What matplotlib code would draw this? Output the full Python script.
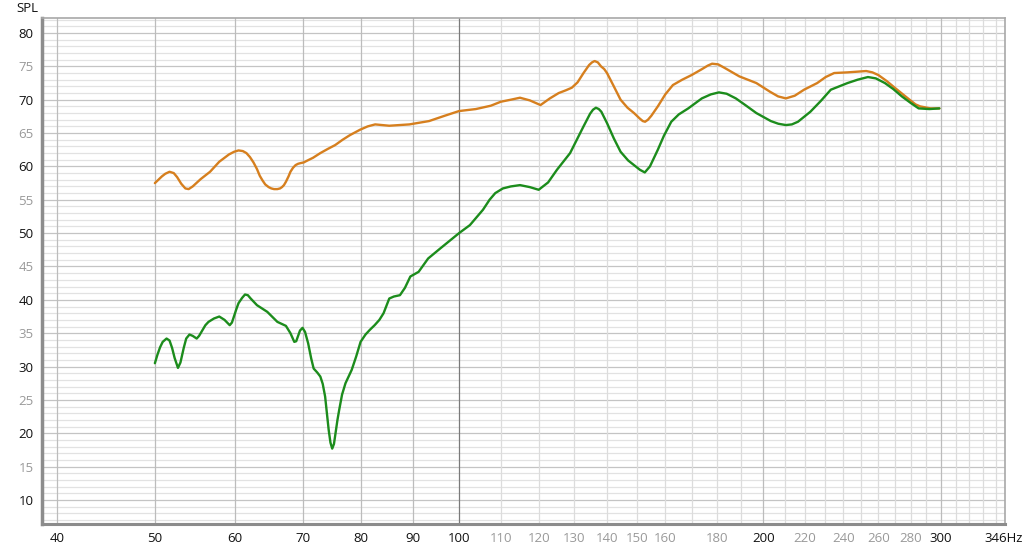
import numpy as np
import matplotlib
matplotlib.use("Agg")
import matplotlib.pyplot as plt

plt.rcParams['font.family'] = ['Open Sans', 'DejaVu Sans']

# frequency response readings (Hz, dB SPL)
orange_freq = [50.0, 50.4, 50.8, 51.2, 51.7, 52.2, 52.6, 53.1, 53.6, 54.0, 54.5, 55.5,
               56.7, 57.9, 59.2, 59.9, 60.5, 61.1, 61.6, 62.1, 62.6, 63.1, 63.5, 63.9,
               64.3, 64.8, 65.2, 65.6, 66.1, 66.5, 66.8, 67.1, 67.4, 67.8, 68.1, 68.5,
               68.9, 69.3, 69.7, 70.2, 70.6, 71.7, 72.9, 74.1, 75.4, 76.7, 78.0, 79.8,
               81.2, 82.6, 85.3, 89.3, 93.4, 96.8, 100.0, 103.9, 107.5, 110.0, 112.5,
               114.9, 117.5, 120.4, 123.0, 125.5, 127.5, 129.3, 131.0, 132.8, 134.5,
               135.4, 136.2, 137.2, 138.2, 139.2, 140.1, 142.3, 144.5, 146.8, 149.0,
               150.9, 152.0, 152.8, 153.8, 155.0, 157.3, 160.0, 162.8, 166.3, 169.9,
               174.0, 176.2, 178.0, 180.5, 183.5, 189.4, 196.9, 203.1, 206.9, 210.6,
               214.9, 219.5, 226.2, 230.6, 235.1, 242.4, 247.6, 252.9, 256.5, 260.0,
               265.0, 270.4, 275.0, 279.2, 283.0, 286.0, 292.9, 298.8]
orange_spl = [57.5, 58.0, 58.5, 58.9, 59.2, 59.0, 58.4, 57.4, 56.7, 56.6, 57.0, 58.1,
              59.2, 60.7, 61.8, 62.2, 62.4, 62.3, 62.0, 61.4, 60.6, 59.6, 58.6, 57.9,
              57.3, 56.9, 56.7, 56.6, 56.6, 56.7, 56.9, 57.2, 57.7, 58.5, 59.2, 59.8,
              60.2, 60.4, 60.5, 60.6, 60.8, 61.3, 62.0, 62.6, 63.2, 64.0, 64.7, 65.5,
              66.0, 66.3, 66.1, 66.3, 66.8, 67.6, 68.3, 68.6, 69.1, 69.7, 70.0, 70.3,
              69.9, 69.2, 70.2, 71.0, 71.4, 71.8, 72.6, 74.0, 75.2, 75.6, 75.8, 75.6,
              75.0, 74.6, 74.0, 72.0, 70.0, 68.8, 68.0, 67.2, 66.8, 66.7, 67.0, 67.6,
              69.0, 70.8, 72.2, 73.0, 73.7, 74.6, 75.1, 75.4, 75.3, 74.7, 73.5, 72.5,
              71.2, 70.5, 70.2, 70.6, 71.5, 72.5, 73.4, 74.0, 74.1, 74.2, 74.3, 74.1,
              73.7, 72.8, 71.7, 70.8, 70.0, 69.3, 69.0, 68.7, 68.7]

green_freq = [50.0, 50.3, 50.6, 50.9, 51.35, 51.7, 52.0, 52.3, 52.7, 53.0, 53.4, 53.7,
              54.1, 54.5, 55.0, 55.3, 55.7, 56.1, 56.5, 57.2, 57.9, 58.6, 59.3, 59.6,
              59.9, 60.2, 60.5, 61.0, 61.4, 61.8, 62.2, 63.1, 64.6, 66.1, 67.4, 68.1,
              68.7, 69.0, 69.3, 69.6, 70.0, 70.4, 70.9, 71.4, 71.8, 72.4, 72.9, 73.3,
              73.7, 74.0, 74.3, 74.6, 74.9, 75.2, 75.5, 75.8, 76.1, 76.6, 77.2, 78.3,
              79.1, 79.9, 80.8, 81.6, 82.5, 83.4, 84.2, 85.3, 86.2, 87.4, 88.4, 89.5,
              91.2, 93.2, 95.8, 100.0, 102.5, 105.6, 107.2, 108.6, 110.5, 112.5, 114.9,
              117.5, 119.9, 122.5, 125.0, 128.8, 132.8, 134.8, 135.7, 136.6, 137.5,
              138.3, 140.1, 142.3, 144.5, 147.0, 149.0, 151.0, 152.7, 154.5, 157.3,
              159.5, 162.2, 165.0, 168.6, 173.9, 177.5, 180.8, 184.0, 187.9, 192.0,
              196.9, 203.5, 207.0, 210.6, 213.5, 216.5, 222.7, 228.0, 233.3, 242.4,
              248.0, 253.9, 258.5, 263.9, 269.0, 274.3, 280.0, 285.0, 292.0, 298.8]
green_spl = [30.5, 31.8, 32.9, 33.7, 34.2, 33.9, 32.8, 31.3, 29.8, 30.6, 32.8, 34.2,
             34.8, 34.6, 34.2, 34.6, 35.4, 36.2, 36.7, 37.2, 37.5, 37.0, 36.2, 36.6,
             37.6, 38.6, 39.5, 40.3, 40.8, 40.7, 40.2, 39.2, 38.2, 36.7, 36.1, 35.0,
             33.7, 33.8, 34.6, 35.4, 35.8, 35.2, 33.5, 31.2, 29.7, 29.1, 28.5, 27.4,
             25.5, 23.0, 20.5, 18.6, 17.7, 18.4, 20.2, 22.0, 23.5, 25.8, 27.5, 29.5,
             31.5, 33.7, 34.8, 35.5, 36.2, 37.0, 38.0, 40.2, 40.5, 40.7, 41.8, 43.5,
             44.2, 46.2, 47.7, 50.0, 51.2, 53.5, 55.0, 56.0, 56.7, 57.0, 57.2, 56.9,
             56.5, 57.6, 59.5, 62.0, 66.0, 67.9, 68.5, 68.8, 68.6, 68.2, 66.5, 64.2,
             62.2, 60.9, 60.2, 59.5, 59.1, 60.0, 62.5, 64.6, 66.7, 67.8, 68.7, 70.2,
             70.8, 71.1, 70.9, 70.2, 69.2, 68.0, 66.8, 66.4, 66.2, 66.3, 66.7, 68.2,
             69.8, 71.5, 72.5, 73.0, 73.4, 73.2, 72.5, 71.6, 70.5, 69.5, 68.7, 68.6,
             68.7]

x_ticks = [40, 50, 60, 70, 80, 90, 100, 110, 120, 130, 140, 150, 160, 180, 200,
           220, 240, 260, 280, 300, 346]
x_labels = ['40', '50', '60', '70', '80', '90', '100', '110', '120', '130', '140',
            '150', '160', '180', '200', '220', '240', '260', '280', '300', '346Hz']
y_ticks = [10, 15, 20, 25, 30, 35, 40, 45, 50, 55, 60, 65, 70, 75, 80]

fig = plt.figure(figsize=(10.24, 5.51), dpi=100)
ax = fig.add_axes([42 / 1024, 27 / 551, 963 / 1024, 506 / 551])
ax.set_xscale('log')
ax.set_xlim(38.66, 347)
ax.set_ylim(6.4, 82.25)

# horizontal grid
for v in range(7, 83):
    c = '#c4c4c4' if v % 5 == 0 else '#e2e2e2'
    ax.axhline(v, color=c, lw=0.9, zorder=0)
# vertical grid
for f in range(40, 350, 10):
    if f == 100:
        c = '#7a7a7a'
    elif f < 100 or f in (200, 300):
        c = '#bcbcbc'
    else:
        c = '#dcdcdc'
    ax.axvline(f, color=c, lw=0.9, zorder=0)

ax.plot(orange_freq, orange_spl, color='#d67f1e', lw=1.7, zorder=3,
        solid_joinstyle='round', solid_capstyle='round')
ax.plot(green_freq, green_spl, color='#1c8c1c', lw=1.7, zorder=4,
        solid_joinstyle='round', solid_capstyle='round')

ax.xaxis.set_minor_locator(matplotlib.ticker.NullLocator())
ax.set_xticks(x_ticks)
ax.set_xticklabels(x_labels)
ax.set_yticks(y_ticks)
ax.tick_params(length=0, labelsize=9.5, pad=6)
for lab, f in zip(ax.get_xticklabels(), x_ticks):
    lab.set_color('#111111' if (f <= 100 or f in (200, 300, 346)) else '#999999')
for lab, v in zip(ax.get_yticklabels(), y_ticks):
    lab.set_color('#111111' if v % 10 == 0 else '#999999')

for s in ax.spines.values():
    s.set_color('#a8a8a8')
    s.set_linewidth(1.2)
ax.spines['left'].set_linewidth(2.5)
ax.spines['bottom'].set_linewidth(2.2)
ax.spines['left'].set_color('#8c8c8c')
ax.spines['bottom'].set_color('#8c8c8c')

fig.text(27 / 1024, 1 - 9 / 551, 'SPL', ha='center', va='center', fontsize=9.5,
         color='#111111')

fig.savefig('out.png', dpi=100)
